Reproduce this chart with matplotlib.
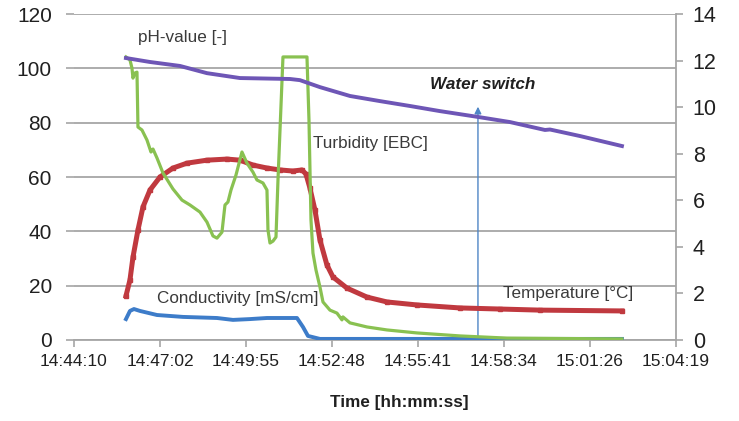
import matplotlib
matplotlib.use("Agg")
import matplotlib.pyplot as plt

plt.rcParams['font.family'] = ['Liberation Sans', 'DejaVu Sans']

# x tick labels (axis spans 14:44:10 .. 15:04:19, 2.88 min per step)
tick_labels = ["14:44:10", "14:47:02", "14:49:55", "14:52:48",
               "14:55:41", "14:58:34", "15:01:26", "15:04:19"]
tick_step_min = 2.88

# time in minutes elapsed since 14:44:10
ph_t = [1.741, 2.545, 3.550, 4.454, 5.559, 7.233, 7.568, 8.238, 9.243, 10.247,
        11.252, 12.257, 13.529, 14.601, 15.773, 15.940, 16.945, 18.351]
ph_v = [12.11, 11.94, 11.77, 11.46, 11.25, 11.21, 11.16, 10.86, 10.48, 10.26,
        10.05, 9.83, 9.58, 9.36, 9.02, 9.04, 8.76, 8.33]

temp_t = [1.741, 1.875, 1.976, 2.143, 2.311, 2.545, 2.880, 3.315, 3.784, 4.454,
          5.124, 5.559, 5.994, 6.463, 6.899, 7.334, 7.635, 7.769, 7.903, 8.071,
          8.238, 8.472, 8.673, 9.142, 9.812, 10.482, 11.486, 12.926, 14.266,
          15.605, 18.351]
temp_v = [16.2, 22.1, 30.5, 40.5, 49.0, 55.2, 60.0, 63.3, 65.1, 66.2,
          66.6, 66.2, 64.4, 63.3, 62.6, 62.2, 62.6, 61.1, 55.9, 47.8,
          36.8, 27.6, 23.2, 19.1, 15.8, 14.0, 12.9, 11.8, 11.4,
          11.0, 10.7]

cond_t = [1.741, 1.875, 2.009, 2.210, 2.780, 3.650, 4.789, 5.325, 5.894, 6.463,
          7.468, 7.669, 7.836, 8.238, 18.351]
cond_v = [7.7, 10.7, 11.4, 10.7, 9.2, 8.5, 8.1, 7.4, 7.7, 8.1,
          8.1, 4.8, 1.5, 0.4, 0.4]

turb_t = [1.741, 1.875, 1.942, 1.976, 2.043, 2.110, 2.143, 2.277, 2.445, 2.579,
          2.646, 2.780, 2.980, 3.315, 3.617, 3.885, 4.219, 4.454, 4.655, 4.789,
          4.956, 5.057, 5.157, 5.258, 5.425, 5.626, 5.793, 5.994, 6.128, 6.329,
          6.463, 6.497, 6.564, 6.664, 6.765, 6.832, 6.999, 7.803, 7.870, 7.937,
          8.004, 8.104, 8.238, 8.339, 8.573, 8.807, 8.975, 9.008, 9.243, 9.812,
          10.482, 11.486, 12.926, 14.500, 18.351]
turb_v = [104.2, 103.1, 100.1, 96.4, 98.3, 98.6, 78.4, 77.3, 73.6, 69.2,
          70.3, 67.0, 61.5, 55.6, 51.5, 49.7, 47.1, 43.4, 38.3, 37.5,
          39.7, 49.7, 50.8, 55.2, 60.7, 69.2, 65.1, 61.8, 58.9, 57.8,
          55.2, 40.5, 35.7, 36.4, 37.9, 58.9, 104.2, 104.2, 81.0, 44.2,
          32.0, 25.8, 19.5, 14.0, 11.0, 9.9, 7.4, 8.5, 6.3, 4.8,
          3.7, 2.6, 1.5, 0.7, 0.4]

switch_t = 13.529
switch_top = 86.9

grid_c = '#a6a6a6'
fig = plt.figure(figsize=(7.39, 4.21), dpi=100)
ax = fig.add_axes([0.1001, 0.1924, 0.8146, 0.7743])
ax2 = ax.twinx()

ax.set_xlim(0, tick_step_min * (len(tick_labels) - 1))
ax.set_ylim(0, 120)
ax2.set_ylim(0, 14)
ax.set_xticks([i * tick_step_min for i in range(len(tick_labels))])
ax.set_xticklabels(tick_labels, fontsize=12.5, color='#202020')
ax.set_yticks(range(0, 121, 20))
ax.tick_params(axis='y', labelsize=15, length=6, color=grid_c, width=1.2,
               pad=10, labelcolor='#202020')
ax.tick_params(axis='x', length=5, color=grid_c, width=1.2, pad=5)
ax2.set_yticks(range(0, 15, 2))
ax2.tick_params(axis='y', labelsize=15.5, length=5, color=grid_c, width=1.2,
                pad=7, labelcolor='#202020')
ax.grid(axis='y', color=grid_c, linewidth=1.3)
ax.set_axisbelow(True)
for s in ['top', 'left']:
    ax.spines[s].set_visible(False)
    ax2.spines[s].set_visible(False)
ax.spines['right'].set_visible(False)
ax2.spines['bottom'].set_visible(False)
ax.spines['bottom'].set_color(grid_c)
ax.spines['bottom'].set_linewidth(1.3)
ax2.spines['right'].set_color(grid_c)
ax2.spines['right'].set_linewidth(1.3)

ax.plot(temp_t, temp_v, color='#c0393f', linewidth=3.6, marker='s',
        markersize=3, zorder=3)
ax.plot(cond_t, cond_v, color='#3d7cc9', linewidth=2.8, zorder=3)
ax.plot(turb_t, turb_v, color='#89c151', linewidth=2.3, zorder=4)
ax2.plot(ph_t, ph_v, color='#6e56b6', linewidth=2.8, zorder=3)

ax.annotate('', xy=(switch_t, switch_top), xytext=(switch_t, 0),
            arrowprops=dict(arrowstyle='-|>', color='#4f86c6', lw=1.0,
                            mutation_scale=10), zorder=2)
ax.text(switch_t + 0.16, 94.2, 'Water switch', fontsize=12.3, fontweight='bold',
        fontstyle='italic', ha='center', va='center', color='#202020')

lab_c = '#3a3a3a'
ax.text(2.143, 111.5, 'pH-value [-]', fontsize=12.3, ha='left', va='center', color=lab_c)
ax.text(8.004, 72.5, 'Turbidity [EBC]', fontsize=12.3, ha='left', va='center', color=lab_c)
ax.text(2.779, 15.1, 'Conductivity [mS/cm]', fontsize=12.3, ha='left', va='center', color=lab_c)
ax.text(14.366, 17.3, 'Temperature [°C]', fontsize=12.3, ha='left', va='center', color=lab_c)

fig.text(399 / 739, 1 - 402 / 421, 'Time [hh:mm:ss]', fontsize=12.3,
         fontweight='bold', ha='center', va='center', color='#202020')

fig.savefig('out.png', dpi=100)
